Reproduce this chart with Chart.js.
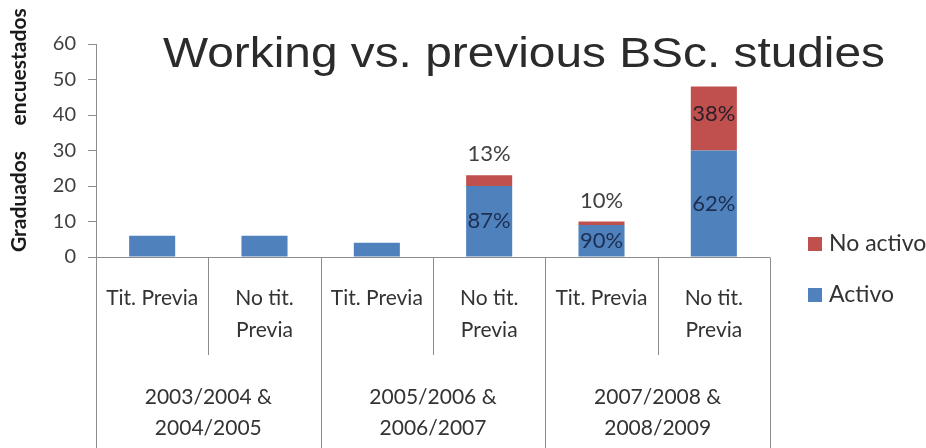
<!DOCTYPE html>
<html><head><meta charset="utf-8">
<style>html,body{margin:0;padding:0;background:#fff;overflow:hidden}canvas{display:block}</style>
<script src="https://cdn.jsdelivr.net/npm/chart.js@4.4.1/dist/chart.umd.min.js"></script>
</head><body>
<canvas id="c" width="926" height="448"></canvas>
<script>
// ---- data ----
const categories = [["Tit. Previa"], ["No tit.", "Previa"], ["Tit. Previa"], ["No tit.", "Previa"], ["Tit. Previa"], ["No tit.", "Previa"]];
const groups = [["2003/2004 &", "2004/2005"], ["2005/2006 &", "2006/2007"], ["2007/2008 &", "2008/2009"]];
const activo = [6, 6, 4, 20, 9, 30];
const noActivo = [0, 0, 0, 3, 1, 18];
const activoLabels = ["", "", "", "87%", "90%", "62%"];
const noActivoLabels = ["", "", "", "13%", "10%", "38%"];
const seriesNames = ["Activo", "No activo"];
const titleText = "Working vs. previous BSc. studies";
const yTitle = "Graduados     encuestados";

const BLUE = '#4F81BD', RED = '#C0504D', AXIS = '#8c8c8c';
const FONT = 'Lato, "Open Sans", sans-serif';

const decor = {
  id: 'decor',
  afterDraw(chart) {
    const ctx = chart.ctx, xs = chart.scales.x, ys = chart.scales.y, a = chart.chartArea;
    const n = categories.length;
    const w = (a.right - a.left) / n;
    ctx.save();
    // category box
    ctx.strokeStyle = AXIS; ctx.lineWidth = 1;
    const by = Math.round(ys.getPixelForValue(0)) + 0.5;
    ctx.beginPath(); ctx.moveTo(a.left - 8, by); ctx.lineTo(a.right, by); ctx.stroke();
    for (let i = 0; i <= n; i++) {
      const px = Math.round(a.left + i * w) + 0.5;
      ctx.beginPath(); ctx.moveTo(px, by); ctx.lineTo(px, i % 2 === 0 ? 448 : 355); ctx.stroke();
    }
    // category labels
    ctx.fillStyle = '#333';
    ctx.font = '21px ' + FONT;
    ctx.textAlign = 'center'; ctx.textBaseline = 'middle';
    categories.forEach((lines, i) => {
      const cx = xs.getPixelForValue(i);
      lines.forEach((t, k) => ctx.fillText(t, cx, by + 41 + k * 32));
    });
    groups.forEach((lines, g) => {
      const cx = (xs.getPixelForValue(2 * g) + xs.getPixelForValue(2 * g + 1)) / 2;
      lines.forEach((t, k) => ctx.fillText(t, cx, by + 140 + k * 31));
    });
    // data labels
    ctx.font = '22px ' + FONT;
    const m0 = chart.getDatasetMeta(0), m1 = chart.getDatasetMeta(1);
    for (let i = 0; i < n; i++) {
      const b0 = m0.data[i], b1 = m1.data[i];
      if (activoLabels[i]) {
        ctx.fillStyle = '#1c2f52';
        ctx.fillText(activoLabels[i], b0.x, (b0.y + b0.base) / 2);
      }
      if (noActivoLabels[i]) {
        const h = b1.base - b1.y;
        if (h < 25) {
          ctx.fillStyle = '#404040';
          ctx.fillText(noActivoLabels[i], b1.x, b1.y - 21);
        } else {
          ctx.fillStyle = '#2a1f2a';
          ctx.fillText(noActivoLabels[i], b1.x, (b1.y + b1.base) / 2 - 5);
        }
      }
    }
    // legend (reverse order)
    ctx.textAlign = 'left';
    ctx.font = '23px ' + FONT;
    const ds = chart.data.datasets;
    [1, 0].forEach((di, k) => {
      const ly = 244 + k * 51;
      ctx.fillStyle = ds[di].backgroundColor;
      ctx.fillRect(808, ly - 7, 14, 14);
      ctx.fillStyle = '#333';
      ctx.fillText(ds[di].label, 829, ly);
    });
    // title
    ctx.font = '42px "Liberation Sans", Arial, sans-serif';
    ctx.fillStyle = '#2b2b2b';
    ctx.textBaseline = 'alphabetic';
    const tw = ctx.measureText(titleText).width;
    ctx.save();
    ctx.translate(163, 67);
    ctx.scale(722 / tw, 1);
    ctx.fillText(titleText, 0, 0);
    ctx.restore();
    // y title
    ctx.save();
    ctx.font = 'bold 21px ' + FONT;
    ctx.fillStyle = '#1a1a1a';
    ctx.translate(19, 252);
    ctx.rotate(-Math.PI / 2);
    ctx.textAlign = 'left'; ctx.textBaseline = 'middle';
    ctx.fillText(yTitle, 0, 0);
    ctx.restore();
    ctx.restore();
  }
};

new Chart(document.getElementById('c'), {
  type: 'bar',
  data: {
    labels: categories,
    datasets: [
      { label: seriesNames[0], data: activo, backgroundColor: BLUE },
      { label: seriesNames[1], data: noActivo, backgroundColor: RED }
    ]
  },
  options: {
    responsive: false, animation: false, devicePixelRatio: 1,
    layout: { padding: { left: 0, right: 156, top: 44, bottom: 191 } },
    plugins: { legend: { display: false }, tooltip: { enabled: false }, title: { display: false } },
    datasets: { bar: { categoryPercentage: 1, barPercentage: 0.41 } },
    scales: {
      x: { stacked: true, display: false },
      y: {
        stacked: true, min: 0, max: 60,
        ticks: { stepSize: 10, color: '#404040', font: { family: FONT, size: 20 }, padding: 12 },
        grid: { drawOnChartArea: false, drawTicks: true, tickLength: 8, color: AXIS },
        border: { color: AXIS },
        afterFit(s) { s.width = 96; }
      }
    }
  },
  plugins: [decor]
});
</script>
</body></html>
